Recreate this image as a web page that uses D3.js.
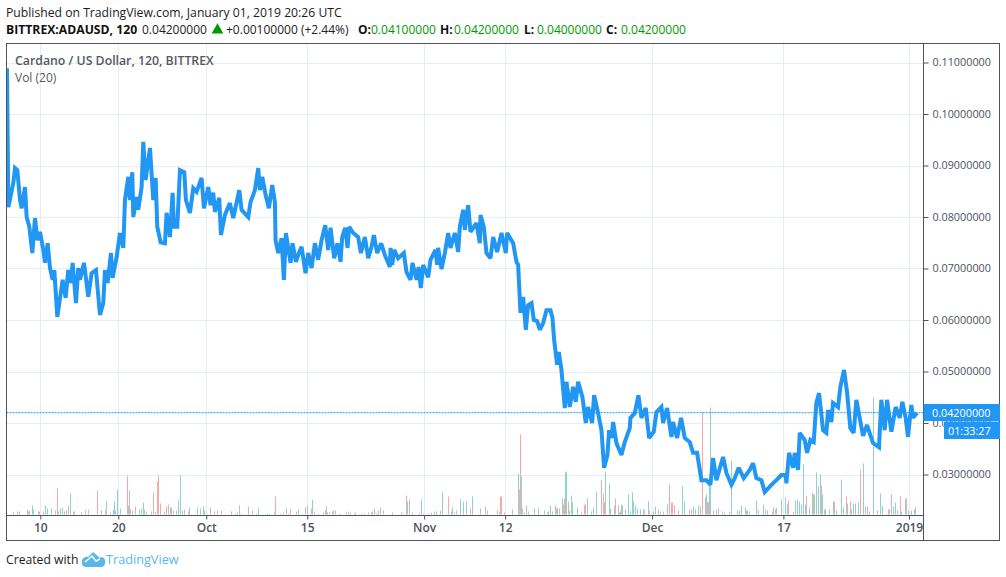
<!DOCTYPE html>
<html>
<head>
<meta charset="utf-8">
<script src="https://cdn.jsdelivr.net/npm/d3@7"></script>
<style>
html, body { margin: 0; padding: 0; background: #fff; }
svg { display: block; }
text { font-family: "Open Sans", sans-serif; }
</style>
</head>
<body>
<div id="chart"></div>
<script>
// time is in traded hours since the first bar, 2731 at the last one
var priceHours = [
0,4,19,24,31,39,44,54,59,67,76,84,91,99,109,114,122,129,137,142,151,157,167,176,184,191,197,207,214,219,231,244,254,267,279,289,294,302,312,317,329,339,349,354,364,369,376,379,389,394,404,409,416,429,439,446,451,461,474,479,489,497,501,511,519,532,537,549,559,569,584,591,604,611,619,624,637,642,654,669,679,697,704,724,731,744,754,759,766,776,786,796,804,806,814,824,831,837,851,857,867,876,
884,896,904,914,924,934,944,955,964,971,982,992,1001,1006,1015,1022,1027,1039,1054,1062,1074,1084,1094,1101,1111,1123,1134,1149,1151,1156,1162,1174,1191,1199,1211,1217,1229,1235,1242,1249,1264,1271,1286,1291,1294,1304,1314,1324,1331,1344,1354,1359,1369,1374,1384,1391,1409,1419,1421,1431,1439,1451,1459,1471,1484,1497,1501,1519,1529,1534,1541,1549,1557,1564,1574,1581,1591,1599,1609,1619,1631,1637,1642,1651,1656,1664,
1674,1679,1689,1699,1707,1714,1727,1737,1744,1756,1762,1774,1784,1792,1802,1807,1814,1819,1829,1844,1854,1869,1871,1884,1895,1904,1917,1927,1941,1949,1964,1969,1981,1994,1999,2011,2023,2034,2049,2059,2071,2084,2099,2111,2119,2129,2149,2159,2174,2184,2196,2211,2229,2239,2249,2264,2274,2294,2309,2324,2337,2339,2347,2359,2364,2374,2379,2394,2401,2411,2421,2429,2437,2449,2459,2464,2474,2479,2494,2501,2512,2521,2531,2541,2549,2559,2569,2581,2599,2617,2624,2634,2641,2654,2667,2679,2687,2697,2704,2714,2719,2731
];
var prices = [
.1089,.0819,.0866,.0895,.0891,.0833,.0817,.0858,.08,.0781,.073,.0798,.0755,.0771,.0736,.0711,.0749,.0701,.0678,.0697,.0606,.0633,.0678,.0643,.0697,.0672,.0711,.0633,.0701,.0678,.0711,.0645,.0691,.0697,.061,.0633,.0697,.0672,.073,.0682,.0722,.0769,.074,.0833,.0878,.0833,.0887,.08,.0839,.0814,.0858,.0946,.0872,.0934,.0833,.0876,.0781,.0751,.0749,.0808,.0761,.0847,.0781,.0781,.0891,.0887,.0833,.0808,.0856,.0849,.0876,.0817,.0858,.0823,.0847,.081,.0837,.0765,.0804,.0827,.0798,.0852,.0814,.08,.0829,.0852,.0895,.0852,.0878,.0843,.0817,.0862,.0829,.0755,.073,.0759,.0678,.0769,.0711,.0749,.0713,.073,
.0742,.0691,.073,.0701,.0749,.0717,.0755,.0784,.0736,.0779,.072,.0749,.0713,.0761,.0779,.074,.0781,.0769,.0761,.073,.0761,.072,.0742,.0765,.073,.0749,.0726,.0703,.074,.0707,.0736,.072,.073,.0693,.0678,.0711,.0678,.0703,.0662,.0707,.0683,.0717,.0736,.0707,.074,.0699,.073,.0769,.074,.0769,.0732,.0781,.0814,.0775,.0823,.0771,.0788,.0749,.0804,.0781,.073,.072,.0761,.0732,.0769,.073,.0769,.0749,.0713,.0707,.0614,.0645,.0581,.0629,.0633,.06,.0598,.0581,.0594,.0619,.0619,.0604,.0561,.0513,.0538,.0503,
.0429,.048,.0431,.047,.0441,.048,.045,.04,.0431,.04,.0454,.0419,.0386,.0313,.0338,.0386,.0371,.0402,.0361,.0338,.0363,.039,.041,.0419,.0454,.041,.0429,.0371,.0383,.0421,.0431,.04,.0429,.0373,.0402,.0371,.041,.0371,.0363,.0342,.0342,.0289,.0289,.028,.0332,.0289,.0334,.0303,.028,.0293,.0313,.0293,.0309,.0322,.0293,.0289,.0266,.028,.0289,.0299,.0299,.0283,.0342,.0313,.0342,.0309,.0381,.0367,.0342,.0367,.0363,.0439,.0458,.0386,.0381,.0425,.0402,.0439,.0431,.047,.0503,.046,.039,.0381,.0445,.041,.0375,.0396,.0361,.0353,.0445,.0386,.0445,.0383,.0431,.041,.0441,.041,.0373,.0435,.041,.042
];

var upHours = [
31,64,67,76,79,94,115,121,133,154,160,166,172,178,190,199,223,282,298,310,319,322,325,331,340,364,370,376,397,403,409,412,432,444,472,490,493,508,514,520,526,547,571,580,589,592,631,672,
684,690,697,703,736,746,752,754,781,787,802,820,838,844,868,874,901,916,922,949,955,961,985,997,1018,1030,1063,1072,1093,1096,1114,1120,1156,1189,1201,1207,1243,1264,1273,1282,1288,1306,1333,1336,1342,1360,1369,
1377,1396,1419,1441,1477,1516,1534,1543,1546,1552,1564,1582,1594,1612,1624,1630,1636,1651,1657,1666,1675,1678,1687,1693,1696,1711,1723,1741,1753,1759,1768,1795,1807,1810,1822,1837,1843,1846,1855,1864,1870,1876,1879,1885,1891,1900,1909,1924,1939,1945,1954,1960,1981,2026,2032,2059,
2064,2074,2080,2095,2098,2107,2110,2128,2134,2146,2152,2167,2173,2191,2197,2203,2215,2221,2227,2248,2254,2275,2281,2299,2305,2323,2335,2341,2365,2371,2377,2383,2389,2395,2407,2416,2422,2428,2434,2440,2446,2455,2467,2479,2488,2503,2509,2521,2533,2539,2545,2554,2569,2575,2587,2599,2620,2626,2647,2659,2665,2671,2683,2695,2704,2713,2722,2725
];
var upVolumes = [
3,3,4,9,5,3,9,6,6,3,6,7,3,4,21,3,2,4,13,2,5,13,4,25,6,9,5,4,5,6,12,5,3,3,3,7,7,4,14,39,4,7,7,6,8,4,4,3,
1,2,9,1,4,1,3,6,1,1,2,1,6,1,3,5,9,15,3,2,4,2,4,1,2,2,1,1,2,3,4,7,1,1,13,15,15,1,2,3,3,22,3,7,2,15,13,
13,18,6,4,2,5,41,38,6,2,3,6,6,4,3,9,3,7,6,16,42,43,4,19,12,7,2,16,3,7,23,43,31,6,9,2,10,9,5,20,3,22,13,9,6,5,5,13,3,8,5,3,10,28,13,8,
5,9,8,17,20,30,107,4,6,3,2,3,54,4,4,9,7,4,3,14,4,5,4,7,5,15,17,10,14,15,13,10,50,10,7,22,20,42,28,40,20,5,5,13,4,35,7,11,5,11,11,12,51,8,3,117,21,9,5,8,12,4,3,16,4,4,5,7
];
var downHours = [
19,37,61,97,109,144,151,177,184,201,234,244,271,294,360,367,385,417,439,451,454,459,478,484,497,530,544,610,622,642,
724,805,829,850,895,913,934,958,967,976,979,1024,1042,1045,1084,1102,1108,1129,1156,1183,1198,1216,1237,1249,1300,1324,1348,
1390,1435,1471,1480,1483,1492,1537,1540,1558,1621,1645,1648,1669,1672,1684,1732,1735,1783,1789,1792,1825,1834,1840,1912,1927,1969,1987,1993,1996,2002,2014,2047,2053,
2086,2102,2105,2119,2128,2146,2218,2269,2296,2308,2344,2359,2398,2419,2443,2452,2482,2518,2530,2560,2581,2611,2644,2653,2680,2698
];
var downVolumes = [
2,3,5,3,3,4,26,4,9,3,4,5,24,4,39,24,8,3,22,33,39,11,8,10,4,5,3,7,3,4,
8,18,2,5,7,6,1,8,2,3,4,3,1,2,2,6,1,4,2,2,19,2,2,1,4,18,4,
6,8,4,18,18,2,25,80,9,2,9,6,10,16,13,9,11,34,21,12,16,9,3,5,4,3,30,12,12,9,4,5,5,
102,13,12,4,5,2,4,10,3,7,14,3,19,20,29,5,13,18,13,45,8,4,5,20,18,16
];

var priceTicks = [.03,.04,.05,.06,.07,.08,.09,.10,.11];
var timeTickHours = [100,334,598,901,1252,1495,1936,2330,2707];
var timeTickLabels = ["10","20","Oct","15","Nov","12","Dec","17","2019"];
var lastPrice = 0.042;

var width = 1006, height = 577,
    left = 6.5, top_ = 43.5, right = 999.5, bottom = 540.5,
    axis_x = 923.5, axis_y = 515.5;

var frame_color = "#50535e", grid_color = "#e6eef4", text_color = "#4c525e",
    line_color = "#2196f3", up_color = "#92d2cc", down_color = "#f7a9a7",
    green = "#009a00";

var x = d3.scaleLinear().domain([0, 2731]).range([7, 917]);
var y = d3.scaleLinear().domain([.03, .11]).range([474.5, 62.5]);
var vol = d3.scaleLinear().domain([0, 100]).range([514.5, 414.5]);

var svg = d3.select("#chart").append("svg")
    .attr("width", width)
    .attr("height", height);

svg.append("defs").append("clipPath").attr("id", "pane")
    .append("rect")
    .attr("x", left).attr("y", top_)
    .attr("width", axis_x - left).attr("height", axis_y - top_);

// grid
svg.append("g").selectAll("line").data(priceTicks).enter().append("line")
    .attr("x1", left).attr("x2", axis_x)
    .attr("y1", function(d){ return Math.round(y(d)) + .5; })
    .attr("y2", function(d){ return Math.round(y(d)) + .5; })
    .attr("stroke", grid_color);
svg.append("g").selectAll("line").data(timeTickHours).enter().append("line")
    .attr("y1", top_).attr("y2", axis_y)
    .attr("x1", function(d){ return Math.round(x(d)) + .5; })
    .attr("x2", function(d){ return Math.round(x(d)) + .5; })
    .attr("stroke", grid_color);

// volume
var draw_bars = function(hours, vols, color)
{
    svg.append("g").selectAll("rect").data(hours).enter().append("rect")
	.attr("x", function(d){ return Math.round(x(d)); })
	.attr("width", 1)
	.attr("y", function(d, i){ return vol(vols[i]); })
	.attr("height", function(d, i){ return vol(0) - vol(vols[i]); })
	.attr("fill", color);
};
draw_bars(upHours, upVolumes, up_color);
draw_bars(downHours, downVolumes, down_color);

// last price
svg.append("line")
    .attr("x1", left).attr("x2", axis_x)
    .attr("y1", y(lastPrice)).attr("y2", y(lastPrice))
    .attr("stroke", line_color)
    .attr("stroke-dasharray", "2,1");

var price_line = d3.line()
    .x(function(d){ return x(d); })
    .y(function(d, i){ return y(prices[i]); });

svg.append("path")
    .attr("clip-path", "url(#pane)")
    .attr("d", price_line(priceHours))
    .attr("fill", "none")
    .attr("stroke", line_color)
    .attr("stroke-width", 4)
    .attr("stroke-linejoin", "miter")
    .attr("stroke-miterlimit", 2.5);

// axes
var y_axis = d3.axisRight(y)
    .tickValues(priceTicks)
    .tickFormat(d3.format(".8f"))
    .tickSize(5)
    .tickPadding(4);
var x_axis = d3.axisBottom(x)
    .tickValues(timeTickHours)
    .tickFormat(function(d, i){ return timeTickLabels[i]; })
    .tickSize(4)
    .tickPadding(4);

var gy = svg.append("g").attr("transform", "translate(" + axis_x + ",0)").call(y_axis);
var gx = svg.append("g").attr("transform", "translate(0," + axis_y + ")").call(x_axis);
gy.select(".domain").remove();
gx.select(".domain").remove();
gy.selectAll("line").attr("stroke", frame_color);
gx.selectAll("line").attr("stroke", frame_color);
gy.selectAll("text").attr("fill", text_color).style("font-size", "10.8px").style("font-family", "Open Sans");
gx.selectAll("text").attr("fill", text_color).style("font-size", "12px").style("font-weight", 600).style("font-family", "Open Sans");

// frame
svg.append("rect")
    .attr("x", left).attr("y", top_)
    .attr("width", right - left).attr("height", bottom - top_)
    .attr("fill", "none").attr("stroke", frame_color);
svg.append("line").attr("x1", axis_x).attr("x2", axis_x).attr("y1", top_).attr("y2", bottom).attr("stroke", frame_color);
svg.append("line").attr("x1", left).attr("x2", axis_x).attr("y1", axis_y).attr("y2", axis_y).attr("stroke", frame_color);

// price tags
svg.append("rect").attr("x", axis_x).attr("y", 404).attr("width", right - axis_x + .5).attr("height", 17).attr("fill", line_color);
svg.append("rect").attr("x", 944).attr("y", 421.5).attr("width", right - 944 + .5).attr("height", 17.5).attr("fill", line_color);
svg.append("text").attr("x", 932).attr("y", 416.5).attr("fill", "#fff").style("font-size", "10.8px").text(d3.format(".8f")(lastPrice));
svg.append("text").attr("x", 948).attr("y", 434.5).attr("fill", "#fff").style("font-size", "10.8px").text("01:33:27");

// header
var label = function(px, py, txt, size, color, weight)
{
    return svg.append("text")
	.attr("x", px).attr("y", py)
	.attr("fill", color)
	.style("font-size", size + "px")
	.style("font-weight", weight || 400)
	.text(txt);
};

label(6, 16.5, "Published on TradingView.com, January 01, 2019 20:26 UTC", 12.2, "#1c1c1c");
label(6, 34, "BITTREX:ADAUSD, 120", 12.2, "#111", 700);
label(142, 34, "0.04200000", 12, "#222");
svg.append("path").attr("d", d3.symbol(d3.symbolTriangle, 60)()).attr("transform", "translate(217.5,30)").attr("fill", green);
label(226, 34, "+0.00100000 (+2.44%)", 12, "#222");
var ohlc = [["O:", "0.04100000", 358, 371], ["H:", "0.04200000", 440, 454], ["L:", "0.04000000", 524, 537], ["C:", "0.04200000", 606, 621]];
ohlc.forEach(function(o){
    label(o[2], 34, o[0], 12, "#111", 700);
    label(o[3], 34, o[1], 12, green);
});

label(15, 65, "Cardano / US Dollar, 120, BITTREX", 12.3, "#555862", 600);
label(15, 82, "Vol (20)", 12, "#555862");

// footer
label(6, 564, "Created with", 12.2, "#1c1c1c");
svg.append("path")
    .attr("d", "M82,563 C81,559 85,556 88,557 L93,552 L100,558 L101,557 C104,557 106,560 105,563 C105,566 103,567 101,567 L87,567 C84,567 82,566 82,563 Z")
    .attr("fill", "#5ab8e8");
svg.append("path")
    .attr("d", "M85,562 L92,556 L96,561 L100,559")
    .attr("fill", "none").attr("stroke", "#fff").attr("stroke-width", 1.4);
label(106, 564, "TradingView", 12.7, "#5ab8e8");
</script>
</body>
</html>
